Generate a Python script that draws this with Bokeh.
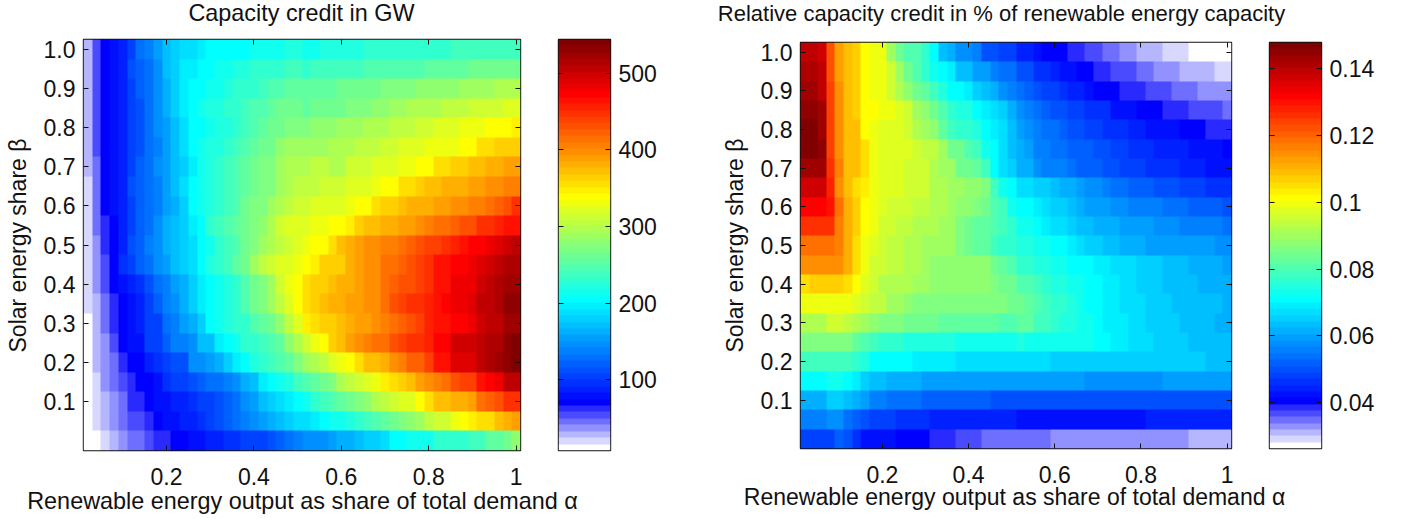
import math
import numpy as np
from bokeh.embed import file_html
from bokeh.resources import INLINE
from bokeh.layouts import column, row
from bokeh.models import FixedTicker, Label, LinearAxis, LinearColorMapper, Range1d, Spacer
from bokeh.plotting import figure

FONT = "Liberation Sans"
INK = "#111111"

TITLE_LEFT = "Capacity credit in GW"
TITLE_RIGHT = "Relative capacity credit in % of renewable energy capacity"
X_LABEL = "Renewable energy output as share of total demand \u03b1"
Y_LABEL = "Solar energy share \u03b2"

ALPHA_TICKS = [0.2, 0.4, 0.6, 0.8, 1.0]
ALPHA_LABELS = ["0.2", "0.4", "0.6", "0.8", "1"]
BETA_TICKS = [0.1, 0.2, 0.3, 0.4, 0.5, 0.6, 0.7, 0.8, 0.9, 1.0]
BETA_LABELS = ["0.1", "0.2", "0.3", "0.4", "0.5", "0.6", "0.7", "0.8", "0.9", "1.0"]
CAP_TICKS = [100, 200, 300, 400, 500]
CAP_LABELS = ["100", "200", "300", "400", "500"]
REL_TICKS = [0.04, 0.06, 0.08, 0.10, 0.12, 0.14]
REL_LABELS = ["0.04", "0.06", "0.08", "0.1", "0.12", "0.14"]

CAP_LOW, CAP_HIGH = 8.0, 544.0
REL_LOW, REL_HIGH = 0.0263, 0.1478

PALETTE = [
    "#ffffff", "#d8d8ff", "#b6b6ff", "#9191ff", "#6f6fff", "#4a4aff", "#2a2aff", "#0000ff",
    "#0010ff", "#0020ff", "#0030ff", "#0040ff", "#0050ff", "#0060ff", "#0070ff", "#0080ff",
    "#008fff", "#009fff", "#00afff", "#00bfff", "#00cfff", "#00dfff", "#00efff", "#00ffff",
    "#10ffef", "#20ffdf", "#30ffcf", "#40ffbf", "#50ffaf", "#60ff9f", "#70ff8f", "#80ff80",
    "#8fff70", "#9fff60", "#afff50", "#bfff40", "#cfff30", "#dfff20", "#efff10", "#ffff00",
    "#ffef00", "#ffdf00", "#ffcf00", "#ffbf00", "#ffaf00", "#ff9f00", "#ff8f00", "#ff8000",
    "#ff7000", "#ff6000", "#ff5000", "#ff4000", "#ff3000", "#ff2000", "#ff1000", "#ff0000",
    "#ef0000", "#df0000", "#cf0000", "#bf0000", "#af0000", "#9f0000", "#8f0000", "#800000",
]

# Colour step (1 to 64) read from each cell: rows run from beta 0 up to beta 1, columns alpha 0.02 to 1.
capacity_steps = [
    [1,1,2,3,4,5,5,6,7,7,8,8,9,9,10,10,11,11,12,12,12,13,14,15,16, 17,17,17,18,19,19,20,21,21,22,24,24,25,25,25,27,27,27,27,28,28,30,30,31,33],
    [1,2,3,4,5,6,6,7,8,9,9,10,10,11,12,13,14,15,16,17,18,19,20,21,22, 22,23,24,25,25,26,27,28,29,30,31,32,33,34,36,37,37,39,40,41,42,42,44,45,46],
    [1,2,3,4,5,7,7,8,9,9,10,10,11,12,12,13,14,15,17,18,20,21,22,23,24, 25,27,28,29,30,31,32,33,35,36,37,38,38,40,42,44,44,45,45,46,49,50,51,53,53],
    [1,2,4,5,6,7,8,8,9,11,12,12,13,14,15,15,16,17,19,20,23,24,25,26,28, 29,30,31,32,35,36,37,38,39,41,42,43,44,46,47,48,49,51,52,52,55,56,57,60,60],
    [1,3,4,5,7,8,8,10,11,12,13,13,17,17,18,19,21,23,24,26,27,28,29,30,32, 34,35,36,38,39,40,42,44,44,45,47,48,50,50,52,55,55,58,58,58,60,61,62,63,64],
    [1,3,4,6,8,9,9,12,12,14,16,16,17,20,20,23,24,25,27,27,28,29,30,33,35, 37,39,40,43,44,46,47,48,49,49,51,52,53,53,54,56,56,59,59,59,60,61,61,63,64],
    [1,3,5,7,8,9,10,12,12,15,16,18,19,21,24,25,26,27,27,29,30,31,33,36,38, 41,42,43,43,44,45,46,46,47,48,49,50,51,52,54,55,55,56,56,57,59,60,60,62,62],
    [2,3,5,7,8,9,10,12,14,16,17,19,21,23,24,25,26,27,29,31,32,34,36,38,40, 42,43,44,45,45,46,46,47,47,49,51,52,53,53,54,55,56,57,57,58,60,60,61,63,63],
    [2,4,6,8,9,10,11,13,15,16,18,19,21,23,24,25,26,27,29,31,32,34,37,39,40, 42,43,43,44,45,45,46,47,47,49,50,51,51,52,53,55,55,57,57,57,59,60,61,62,62],
    [2,4,6,8,11,12,14,15,17,18,20,21,22,24,26,27,28,30,31,34,36,37,38,38,39, 40,41,43,43,43,45,46,47,47,49,49,50,51,52,53,55,55,56,56,57,58,59,60,61,61],
    [2,4,7,8,10,13,14,16,17,19,20,21,22,24,25,27,28,29,31,32,34,35,36,37,38, 39,40,40,42,44,45,46,47,47,48,48,49,50,51,52,52,53,54,55,56,56,57,58,59,60],
    [2,5,7,8,10,12,14,15,17,19,20,21,23,24,27,28,29,30,31,32,33,35,37,38,38, 38,39,39,40,40,41,43,44,44,45,45,46,46,47,48,49,49,50,51,51,53,53,54,55,55],
    [2,5,8,9,10,12,14,15,16,18,19,21,24,25,26,27,28,29,31,32,32,34,35,36,37, 37,38,38,38,38,39,40,40,42,43,43,44,45,45,45,46,46,47,47,48,48,49,50,51,53],
    [2,5,8,9,10,13,14,15,16,18,20,22,24,25,26,27,28,29,30,31,32,32,34,35,36, 36,36,37,37,37,38,38,38,39,40,40,42,42,43,44,44,45,45,45,46,46,47,47,48,48],
    [3,5,8,9,10,12,14,15,17,18,20,21,23,25,26,27,28,29,30,31,32,32,34,35,35, 35,36,36,35,35,37,37,37,38,38,38,39,39,40,40,42,42,43,43,44,44,45,45,46,46],
    [3,6,8,9,10,12,13,15,16,18,20,22,24,25,26,26,27,28,29,30,31,31,33,34,34, 34,34,34,35,35,35,36,36,36,37,37,38,38,38,39,39,39,39,40,40,42,42,43,43,43],
    [3,6,8,9,10,12,13,15,17,18,20,22,24,24,25,26,26,27,28,29,30,31,31,32,32, 32,33,33,33,34,34,34,35,35,35,36,36,36,37,37,38,38,38,39,39,39,40,40,40,41],
    [3,6,8,9,10,12,13,15,17,19,21,23,24,25,26,26,27,27,28,29,29,30,31,31,31, 30,31,31,31,31,32,32,32,33,33,34,34,35,35,35,35,36,36,36,37,37,37,37,38,38],
    [3,6,8,9,10,12,14,15,17,19,21,23,24,24,25,25,26,27,27,27,28,29,29,30,30, 30,30,30,30,31,31,31,31,31,32,32,32,32,33,33,33,33,33,34,34,34,34,35,35,35],
    [3,6,8,9,10,13,14,15,17,20,21,23,23,24,24,25,25,26,26,27,27,27,27,28,28, 27,28,28,28,28,28,28,29,29,29,29,29,29,29,30,30,30,30,30,31,31,31,31,31,31],
    [3,6,8,9,10,12,15,16,18,20,21,22,22,23,24,24,24,24,24,25,25,25,25,26,26, 25,25,26,26,26,26,26,27,27,27,27,27,27,27,27,27,27,28,28,28,28,28,28,28,28],
]

relative_steps = [
    [12,12,12,12,14,13,11,9,9,9,9,8,8,8,8,7,7,7,6,6,6,5,5,5,5, 5,5,5,5,4,4,4,4,4,4,4,4,4,4,4,4,4,4,4,4,3,3,3,3,3],
    [16,16,16,17,17,15,14,13,12,12,12,11,11,11,11,10,10,10,10,10,10,10,10,10,10, 9,9,9,9,9,9,9,9,9,9,9,9,9,9,9,10,10,10,10,10,10,10,10,10,10],
    [19,19,19,21,21,20,19,18,16,16,15,15,15,15,14,14,14,14,14,14,14,14,13,13,13, 13,13,13,13,13,13,13,13,13,13,13,13,13,13,13,13,13,13,13,13,13,13,13,13,13],
    [24,24,24,25,25,24,23,21,20,20,19,19,19,19,18,18,18,18,18,18,18,18,18,18,18, 18,18,18,18,18,18,18,18,17,17,17,17,17,17,17,17,17,18,18,18,18,18,18,18,18],
    [28,28,28,28,28,28,27,26,24,24,24,24,24,23,23,23,23,23,22,22,22,22,22,22,22, 22,22,22,22,21,21,21,21,21,21,21,21,21,21,21,21,21,21,21,21,21,21,20,20,20],
    [32,32,32,32,32,32,30,29,28,27,27,27,26,26,26,26,26,26,25,25,25,25,25,25,25, 26,25,25,25,25,25,25,25,25,24,24,23,23,22,22,22,21,21,21,21,20,20,20,20,20],
    [35,35,35,37,37,36,35,34,33,32,32,32,31,31,31,31,30,30,30,30,30,30,30,29,29, 30,30,28,28,27,26,26,25,25,24,23,23,23,22,22,21,21,21,21,20,20,20,20,19,19],
    [39,39,39,39,39,39,38,37,36,36,34,34,33,32,32,32,32,32,32,32,32,32,32,32,31, 31,30,29,28,27,27,26,25,24,24,23,23,22,22,22,21,21,21,20,20,20,20,20,20,19],
    [42,43,43,43,43,42,40,38,37,35,35,35,35,34,34,33,33,33,33,33,33,33,32,31,31, 29,29,28,27,26,26,25,25,24,24,23,23,22,22,21,21,21,20,20,20,20,19,19,19,19],
    [47,47,47,47,47,45,42,39,37,37,36,36,35,35,34,33,33,33,33,33,33,33,31,30,29, 27,27,26,26,25,25,24,24,24,23,23,22,22,22,21,21,21,20,20,20,19,19,19,19,18],
    [49,49,49,49,48,45,42,39,38,37,36,36,35,35,34,34,34,34,32,31,30,30,28,27,27, 26,26,25,25,24,24,23,22,21,21,20,20,19,19,19,18,18,18,18,18,18,18,18,17,17],
    [53,53,53,53,48,45,43,40,39,37,37,36,36,35,35,35,34,34,32,31,30,30,29,28,27, 25,25,24,23,22,22,21,20,20,19,19,19,18,18,18,18,17,17,17,16,16,16,16,16,15],
    [56,56,56,55,49,45,43,40,39,38,37,37,37,36,36,35,35,34,33,33,32,31,29,28,25, 24,24,23,22,21,21,20,19,18,18,18,17,17,16,16,16,16,15,15,15,14,14,14,14,13],
    [59,59,59,54,47,44,42,41,39,38,38,38,37,37,37,35,35,34,34,33,33,32,28,25,24, 22,22,21,21,20,19,19,18,17,17,16,15,15,14,14,14,13,13,13,12,12,12,11,11,11],
    [62,62,62,53,48,44,44,42,39,38,38,38,37,37,37,35,34,34,31,31,30,28,24,22,21, 19,19,17,16,16,16,15,14,14,14,13,13,12,12,12,11,11,11,11,10,10,10,9,9,9],
    [64,64,63,52,47,44,44,42,39,38,38,38,38,37,36,36,34,31,31,29,28,25,24,22,20, 19,18,16,16,15,15,14,14,14,13,13,12,12,11,11,11,10,10,10,10,9,9,9,9,8],
    [64,64,62,52,47,44,44,40,39,38,38,38,37,35,34,33,30,28,27,27,26,24,23,22,20, 18,17,16,15,15,14,13,13,12,12,11,11,11,10,10,9,9,9,9,8,8,8,7,7,7],
    [63,63,62,52,47,44,43,40,40,39,39,38,37,34,33,31,29,27,26,26,24,23,22,21,19, 17,16,15,14,13,13,12,12,11,11,11,9,9,9,8,8,8,7,7,7,6,6,6,6,5],
    [62,62,60,52,47,44,43,40,39,39,37,35,33,31,30,28,26,24,24,23,21,20,19,17,16, 15,14,13,12,12,11,10,10,9,8,8,8,7,7,7,6,6,6,5,5,5,4,4,4,4],
    [61,61,60,51,46,44,43,40,39,39,37,34,31,29,27,25,24,23,20,20,18,18,16,15,15, 13,13,11,11,10,9,9,8,8,7,7,6,6,6,5,5,4,4,4,3,3,3,3,2,2],
    [60,60,59,51,46,44,43,40,39,39,34,31,29,29,27,24,20,19,17,17,16,13,13,12,12, 10,10,9,8,8,8,7,7,6,6,5,5,4,4,3,3,3,2,2,2,1,1,1,1,1],
]


def to_values(steps, low, high):
    return low + (np.array(steps, dtype=float) - 0.5) * (high - low) / len(PALETTE)


def style_axis(ax, ticks, labels, size="23px", show_labels=True, standoff=8):
    ax.ticker = FixedTicker(ticks=ticks)
    ax.major_tick_in = 5
    ax.major_tick_out = 0
    ax.minor_tick_line_color = None
    ax.major_tick_line_color = INK
    ax.axis_line_color = None
    ax.major_label_text_font = FONT
    ax.major_label_text_color = INK
    if show_labels:
        ax.major_label_overrides = dict(zip(ticks, labels))
        ax.major_label_text_font_size = size
        ax.major_label_standoff = standoff
    else:
        ax.major_label_overrides = {t: "" for t in ticks}
        ax.major_label_text_font_size = "1px"
        ax.major_label_standoff = 0


def heatmap(steps, low, high, frame_w, frame_h, left, top, right, bottom, size, standoff):
    mapper = LinearColorMapper(palette=PALETTE, low=low, high=high)
    p = figure(
        width=left + frame_w + right, height=top + frame_h + bottom,
        frame_width=frame_w, frame_height=frame_h,
        x_range=Range1d(0.01, 1.01), y_range=Range1d(-0.025, 1.025),
        min_border_left=left, min_border_right=right, min_border_top=top, min_border_bottom=bottom,
        toolbar_location=None, output_backend="svg",
    )
    p.grid.visible = False
    p.image(image=[to_values(steps, low, high)], x=0.01, y=-0.025, dw=1.0, dh=1.05, color_mapper=mapper)
    style_axis(p.xaxis[0], ALPHA_TICKS, ALPHA_LABELS, size=size, standoff=standoff)
    style_axis(p.yaxis[0], BETA_TICKS, BETA_LABELS, size=size)
    for side, ticks, labels in (("above", ALPHA_TICKS, ALPHA_LABELS), ("right", BETA_TICKS, BETA_LABELS)):
        ax = LinearAxis()
        style_axis(ax, ticks, labels, show_labels=False)
        p.add_layout(ax, side)
    p.outline_line_color = INK
    p.outline_line_width = 1.4
    p.outline_line_alpha = 1.0
    return p


def colorbar(low, high, ticks, labels, frame_w, frame_h, left, top, right, bottom, size):
    mapper = LinearColorMapper(palette=PALETTE, low=low, high=high)
    p = figure(
        width=left + frame_w + right, height=top + frame_h + bottom,
        frame_width=frame_w, frame_height=frame_h,
        x_range=Range1d(0, 1), y_range=Range1d(low, high),
        min_border_left=left, min_border_right=right, min_border_top=top, min_border_bottom=bottom,
        toolbar_location=None, output_backend="svg", y_axis_location="right",
    )
    p.grid.visible = False
    p.xaxis.visible = False
    column_values = to_values([[i + 1] for i in range(len(PALETTE))], low, high)
    p.image(image=[column_values], x=0, y=low, dw=1, dh=high - low, color_mapper=mapper)
    style_axis(p.yaxis[0], ticks, labels, size=size)
    ax = LinearAxis()
    style_axis(ax, ticks, labels, show_labels=False)
    p.add_layout(ax, "left")
    p.outline_line_color = INK
    p.outline_line_width = 1.4
    return p


def label_strip(frame_w, frame_h, top, bottom, x, y, text, size):
    p = figure(
        width=frame_w, height=top + frame_h + bottom, frame_width=frame_w, frame_height=frame_h,
        x_range=Range1d(0, frame_w), y_range=Range1d(0, frame_h),
        min_border_left=0, min_border_right=0, min_border_top=top, min_border_bottom=bottom,
        toolbar_location=None, output_backend="svg",
    )
    p.axis.visible = False
    p.grid.visible = False
    p.outline_line_color = None
    p.add_layout(Label(x=x, y=y, text=text, angle=math.pi / 2, text_align="center", text_baseline="alphabetic",
                       text_font=FONT, text_font_size=size, text_color=INK))
    return p


def text_strip(height, items, margin=(0, 0, 0, 0)):
    p = figure(width=1394, height=height, x_range=Range1d(0, 1394), y_range=Range1d(0, height),
               min_border=0, toolbar_location=None, output_backend="svg", margin=margin)
    p.axis.visible = False
    p.grid.visible = False
    p.outline_line_color = None
    p.background_fill_color = None
    p.border_fill_color = None
    for x, y, text, size in items:
        p.add_layout(Label(x=x, y=y, text=text, text_align="center", text_baseline="alphabetic",
                           text_font=FONT, text_font_size=size, text_color=INK))
    return p


header = text_strip(31, [(301, 19, TITLE_LEFT, "23.4px"), (1001, 18, TITLE_RIGHT, "22px")])
footer = text_strip(44, [(302, 18, X_LABEL, "23.4px"), (1014, 22, X_LABEL, "23px")], margin=(-21, 0, 0, 0))

strip_a = label_strip(34, 411, 8, 45, 17, 205, Y_LABEL, "23px")
panel_a = heatmap(capacity_steps, CAP_LOW, CAP_HIGH, 437, 411, 49, 8, 10, 45, "23px", 17)
bar_a = colorbar(CAP_LOW, CAP_HIGH, CAP_TICKS, CAP_LABELS, 52, 411, 28, 8, 90, 45, "23px")
strip_b = label_strip(50, 406, 8, 47, 34, 203, Y_LABEL, "23px")
panel_b = heatmap(relative_steps, REL_LOW, REL_HIGH, 431, 406, 50, 8, 10, 47, "23px", 17)
bar_b = colorbar(REL_LOW, REL_HIGH, REL_TICKS, REL_LABELS, 52, 406, 28, 8, 73, 47, "23px")

group_a = row(strip_a, panel_a, bar_a)
group_b = column(Spacer(width=10, height=3), row(strip_b, panel_b, bar_b))
page = column(header, row(group_a, group_b), footer)
open("out.html", "w").write(file_html(page, INLINE))
